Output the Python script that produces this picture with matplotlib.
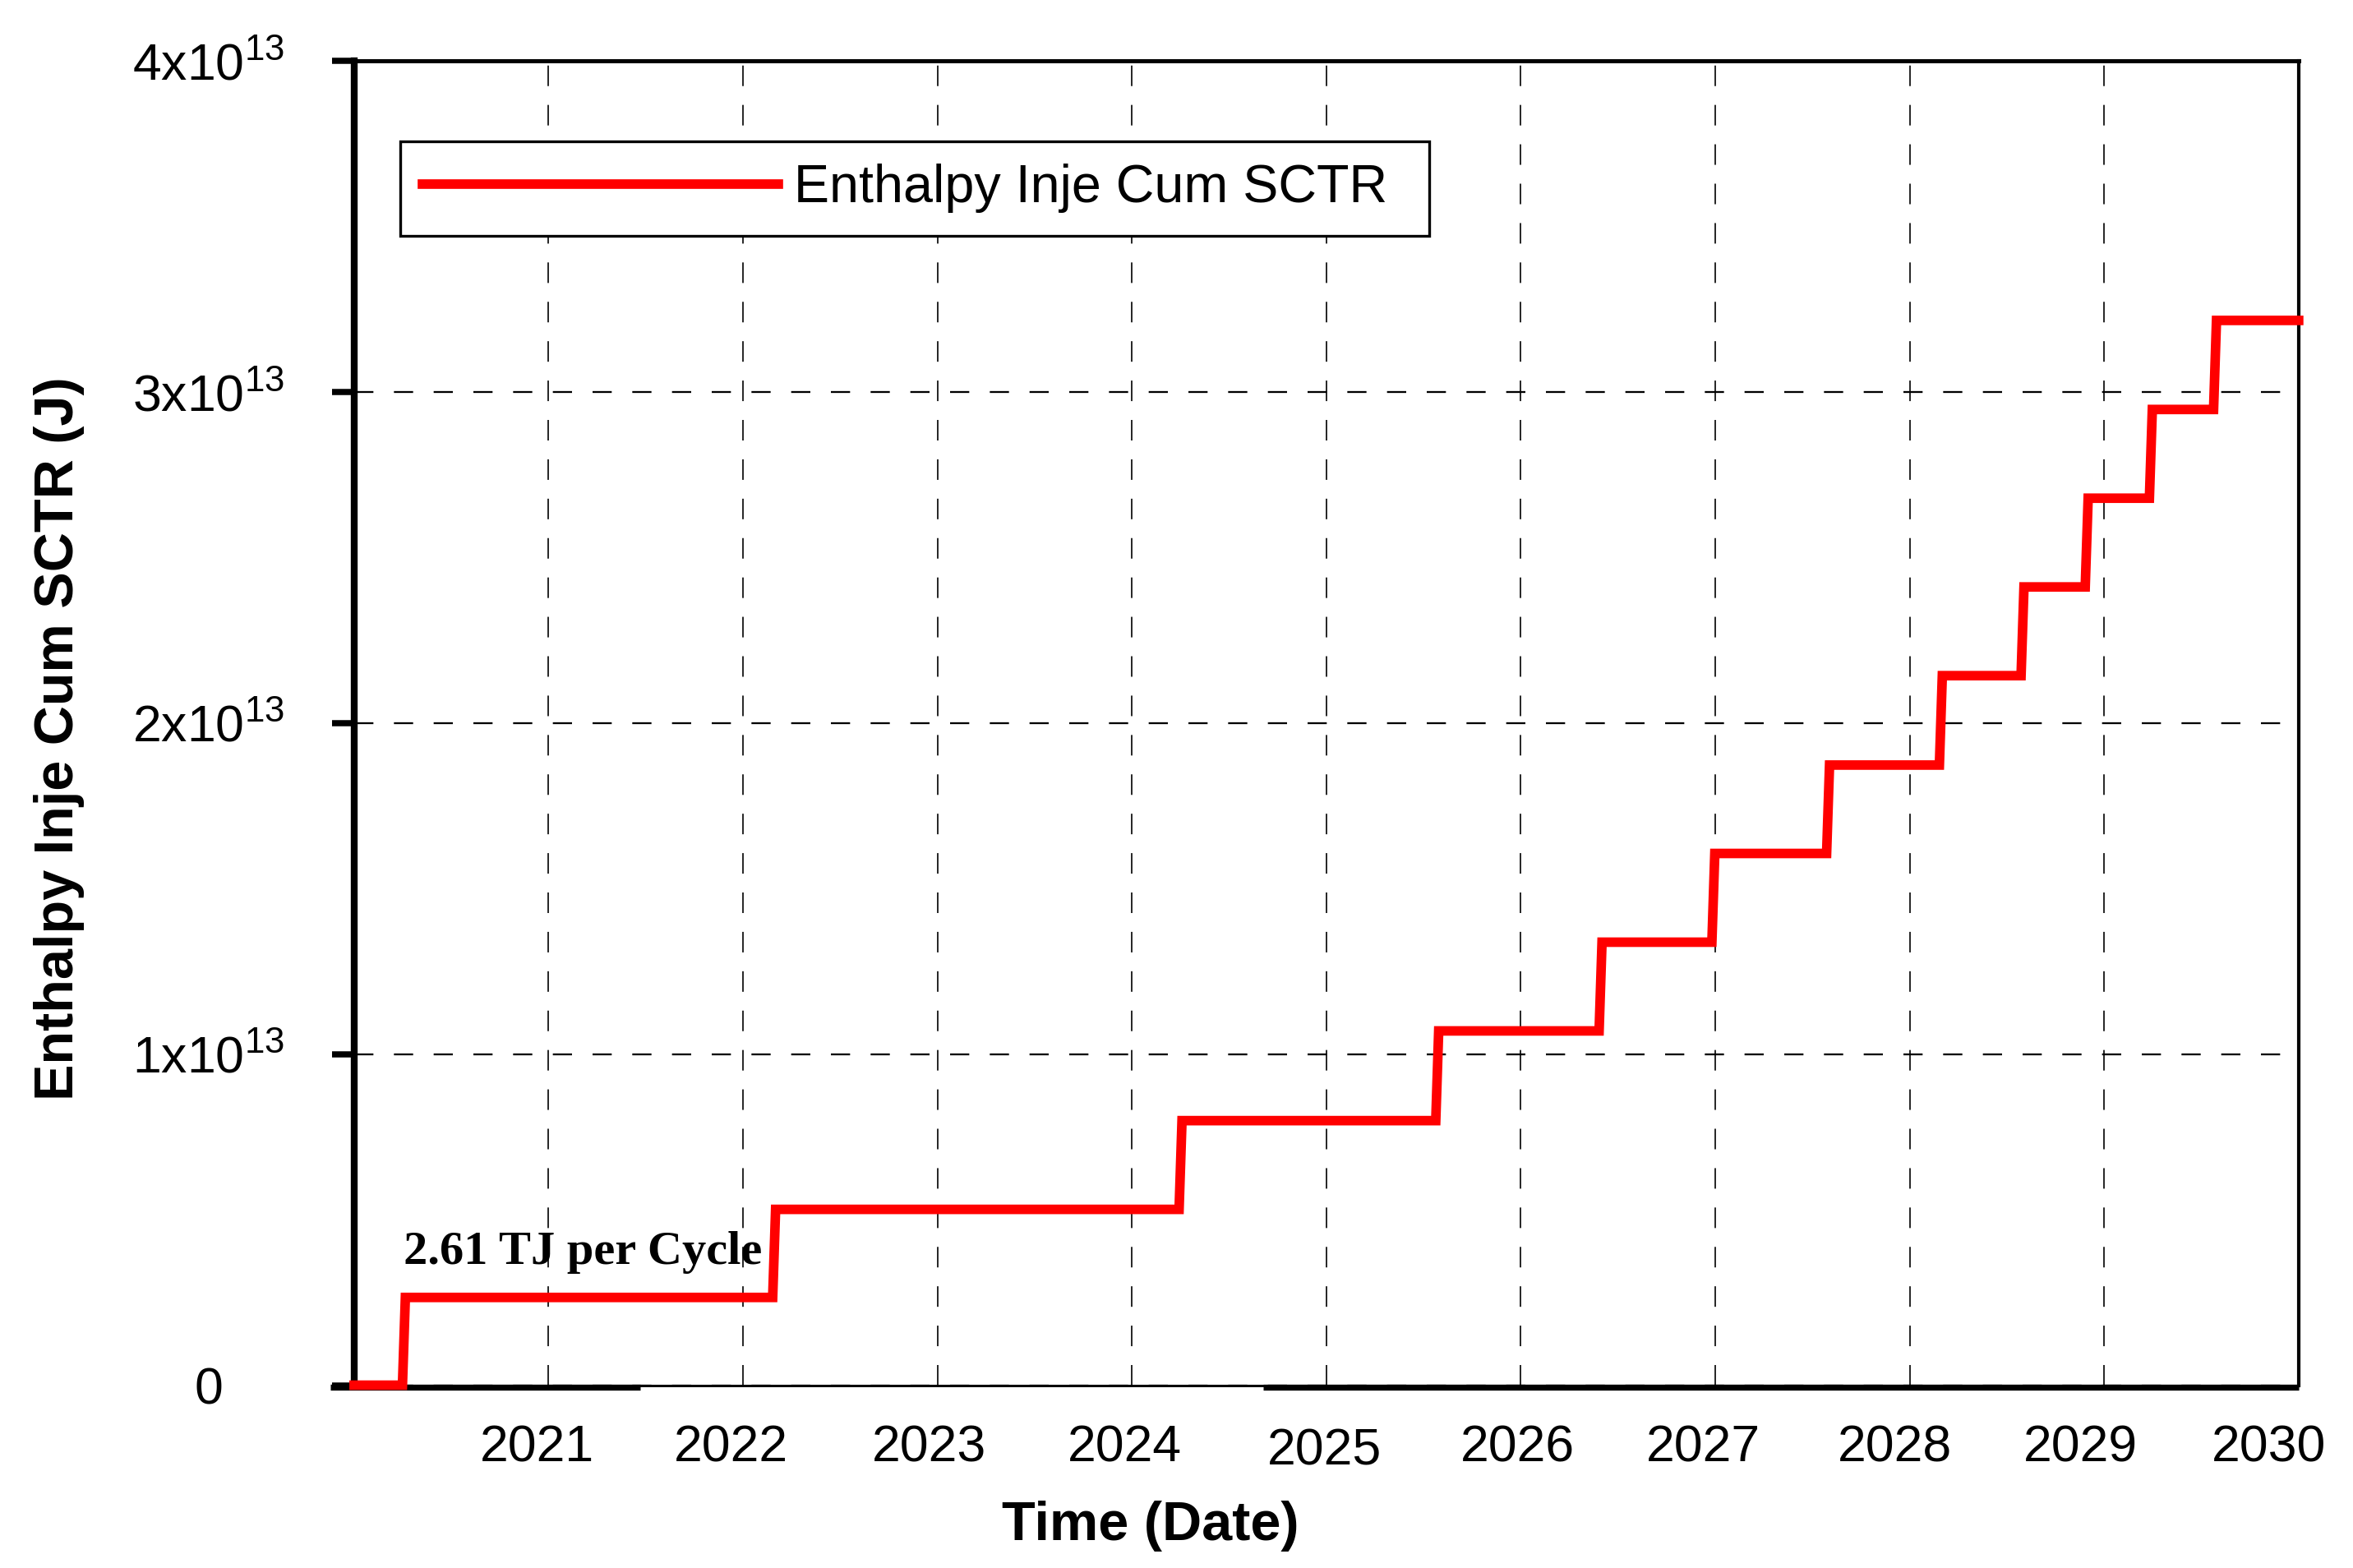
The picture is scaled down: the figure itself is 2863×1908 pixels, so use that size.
import matplotlib
matplotlib.use("Agg")
import matplotlib.pyplot as plt
from matplotlib import transforms

# data
jump_years = [2020.256, 2022.16, 2024.25, 2025.57, 2026.41, 2026.99,
              2027.58, 2028.16, 2028.58, 2028.91, 2029.24, 2029.57]
levels_tj = [0.0, 2.65, 5.31, 7.99, 10.70, 13.38, 16.06,
             18.73, 21.43, 24.11, 26.79, 29.47, 32.16]   # x 1e12 J
year_ticks = [2021, 2022, 2023, 2024, 2025, 2026, 2027, 2028, 2029, 2030]
year_labels = [str(y) for y in year_ticks]
y_ticks = [0, 1e13, 2e13, 3e13, 4e13]
y_labels = ["0", "1x10$^{13}$", "2x10$^{13}$", "3x10$^{13}$", "4x10$^{13}$"]
series_name = "Enthalpy Inje Cum SCTR"
note = "2.61 TJ per Cycle"

# small rendering shifts of the year labels seen in the reference (pixels)
label_dx = [-14, -15, -10, -9, -2, -4, -15, -18, -29, -36]
label_dy = [0, 0, 0, 0, -4, 0, 0, 0, 0, 0]

plt.rcParams['font.family'] = ['Liberation Sans', 'DejaVu Sans']
plt.rcParams['mathtext.default'] = 'regular'
plt.rcParams['lines.scale_dashes'] = False

DPI = 300
fig = plt.figure(figsize=(2863 / DPI, 1908 / DPI), dpi=DPI)
ax = fig.add_axes([0.1505, 0.1166, 0.8264, 0.8446])

# build the step line, each jump takes a short ramp
ramp = 0.015
xs = [2020.0]
ys = [0.0]
for t, prev, new in zip(jump_years, levels_tj[:-1], levels_tj[1:]):
    xs += [t - ramp / 2, t + ramp / 2]
    ys += [prev * 1e12, new * 1e12]
xs.append(2030.0)
ys.append(levels_tj[-1] * 1e12)

ax.plot(xs, ys, color='#ff0000', lw=2.8, zorder=5, clip_on=False,
        label=series_name, solid_joinstyle='miter')

ax.set_xlim(2020, 2030)
ax.set_ylim(0, 4e13)

ax.set_xticks(year_ticks)
ax.set_xticklabels([])
ax.tick_params(axis='x', length=0)
ax.set_yticks(y_ticks)
ax.set_yticklabels(y_labels)
ax.tick_params(axis='y', direction='out', length=6.5, width=1.8,
               pad=36, labelsize=15)
for lab in ax.get_yticklabels():
    lab.set_horizontalalignment('center')

ax.xaxis.grid(True, color='black', lw=0.4, linestyle=(0, (6, 5.5)))
ax.yaxis.grid(True, color='black', lw=0.55, linestyle=(0, (5.6, 6)))

for yr, txt, dx, dy in zip(year_ticks, year_labels, label_dx, label_dy):
    tr = ax.get_xaxis_transform() + transforms.ScaledTranslation(dx / DPI, dy / DPI, fig.dpi_scale_trans)
    ax.text(yr, -0.029, txt, transform=tr, ha='center', va='top', fontsize=15)

ax.spines['left'].set_linewidth(2.0)
ax.spines['top'].set_linewidth(1.2)
ax.spines['right'].set_linewidth(1.0)
ax.spines['bottom'].set_linewidth(0.72)
# thicker pieces of the bottom axis line, hanging a little below it
down = ax.transAxes + transforms.ScaledTranslation(0, -2 / DPI, fig.dpi_scale_trans)
for x0, x1 in [(-0.012, 0.147), (0.4675, 1.0)]:
    ax.plot([x0, x1], [0, 0], color='black', lw=1.75, transform=down,
            clip_on=False, zorder=4, solid_capstyle='butt')

leg = ax.legend(loc='upper left', bbox_to_anchor=(0.0237, 0.5, 0.529, 0.439),
                mode='expand', borderaxespad=0, fontsize=15.5, frameon=True,
                fancybox=False, framealpha=1, edgecolor='black',
                handlelength=6.7, handletextpad=0.3, borderpad=0.42)
leg.get_frame().set_linewidth(0.8)

ax.text(2020.254, 0.366e13, note, family=['Liberation Serif', 'DejaVu Serif'],
        fontweight='bold', fontsize=14, ha='left', va='baseline', zorder=6)

fig.text(0.4888, 0.0267, "Time (Date)", ha='center', va='center',
         fontsize=16, fontweight='bold')
fig.text(0.0251, 0.529, "Enthalpy Inje Cum SCTR (J)", ha='center', va='center',
         rotation=90, fontsize=16, fontweight='bold')

fig.savefig("out.png", dpi=DPI)
